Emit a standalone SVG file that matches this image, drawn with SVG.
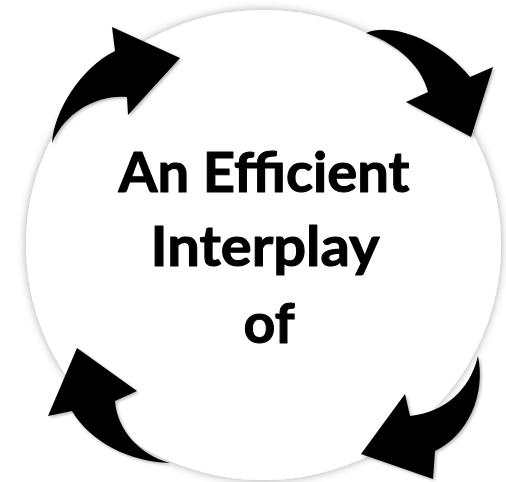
<svg xmlns="http://www.w3.org/2000/svg" width="506" height="482" viewBox="0 0 506 482">
  <defs>
    <filter id="glow" x="-10%" y="-10%" width="120%" height="120%">
      <feDropShadow dx="0" dy="0" stdDeviation="4" flood-color="#000" flood-opacity="0.35"/>
    </filter>
    <filter id="ashadow" x="-20%" y="-20%" width="140%" height="140%">
      <feDropShadow dx="1.5" dy="1.5" stdDeviation="1.5" flood-color="#000" flood-opacity="0.3"/>
    </filter>
  </defs>
  <style>
    .arrow { fill: #000; filter: url(#ashadow); }
    .label { font-family: Lato, "Open Sans", "Liberation Sans", sans-serif; font-weight: bold; font-size: 56px; fill: #000; stroke: #000; stroke-width: 1.1px; stroke-linejoin: round; text-anchor: middle; }
  </style>
  <rect width="506" height="482" fill="#fff"/>
  <g id="circle">
    <ellipse cx="263.5" cy="245" rx="237.5" ry="235" fill="#fff" filter="url(#glow)"/>
    <text class="label" x="264" y="192" textLength="291" lengthAdjust="spacingAndGlyphs">An Efficient</text>
    <text class="label" x="265" y="266" textLength="229" lengthAdjust="spacingAndGlyphs">Interplay</text>
    <text class="label" x="269" y="343" textLength="51" lengthAdjust="spacingAndGlyphs">of</text>
  </g>
  <g id="connectors">
    <path id="arrow-top-left" class="arrow" d="M52,143 C54,112 80,68 115,51 L112,27 L180,58 L128,115 L127,97 C100,94 66,110 52,143 Z"/>
    <path id="arrow-top-right" class="arrow" d="M366,33 C392,22 440,40 470,77 L493,67 L471,137 L406,102 L428,92 C422,68 400,45 366,33 Z"/>
    <path id="arrow-bottom-right" class="arrow" d="M478,356 C486,395 468,435 435,451 L433,479 L361,454 L405,394 L410,416 C445,412 470,390 478,356 Z"/>
    <path id="arrow-bottom-left" class="arrow" d="M170,463 C130,462 90,442 72,411 L48,416 L77,348 L137,391 L115,401 C117,430 140,455 170,463 Z"/>
  </g>
</svg>
